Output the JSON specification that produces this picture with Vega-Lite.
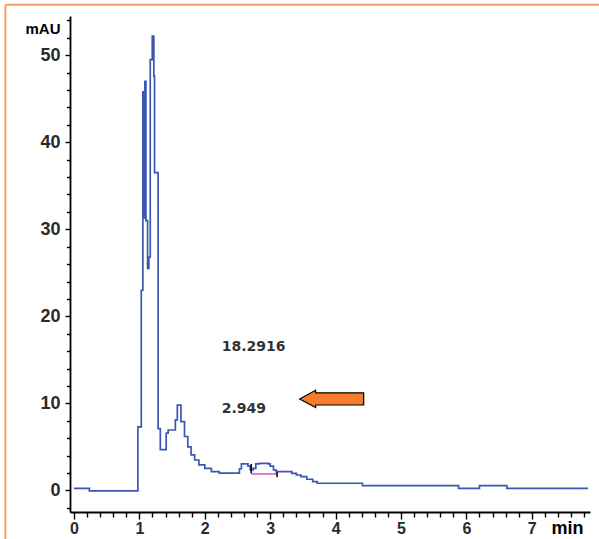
{
  "$schema": "https://vega.github.io/schema/vega-lite/v6.json",
  "autosize": {"type": "none"},
  "width": 520,
  "height": 496,
  "padding": {"left": 70, "top": 16, "right": 9, "bottom": 27},
  "background": "white",
  "config": {"view": {"stroke": null}},
  "datasets": {
    "trace": [
      {"t": 0, "v": 0.25}, {"t": 0.235, "v": -0.05}, {"t": 0.977, "v": 7.3}, {"t": 1.029, "v": 23.0},
      {"t": 1.053, "v": 45.8}, {"t": 1.072, "v": 31.3}, {"t": 1.084, "v": 47.0}, {"t": 1.1, "v": 31.0},
      {"t": 1.125, "v": 25.5}, {"t": 1.145, "v": 26.8}, {"t": 1.166, "v": 49.5}, {"t": 1.197, "v": 52.2},
      {"t": 1.221, "v": 47.6}, {"t": 1.232, "v": 36.5}, {"t": 1.286, "v": 7.1}, {"t": 1.32, "v": 4.7},
      {"t": 1.41, "v": 6.6}, {"t": 1.44, "v": 6.95}, {"t": 1.55, "v": 8.1}, {"t": 1.58, "v": 9.8},
      {"t": 1.635, "v": 7.9}, {"t": 1.69, "v": 6.2}, {"t": 1.74, "v": 5.0}, {"t": 1.79, "v": 4.1},
      {"t": 1.845, "v": 3.5}, {"t": 1.91, "v": 2.95}, {"t": 2.0, "v": 2.55}, {"t": 2.1, "v": 2.16},
      {"t": 2.22, "v": 2.0}, {"t": 2.53, "v": 2.5}, {"t": 2.56, "v": 3.05}, {"t": 2.66, "v": 2.8},
      {"t": 2.695, "v": 2.36}, {"t": 2.74, "v": 2.55}, {"t": 2.78, "v": 3.05}, {"t": 2.83, "v": 3.12},
      {"t": 2.97, "v": 3.05}, {"t": 3.0, "v": 2.8}, {"t": 3.05, "v": 2.36}, {"t": 3.09, "v": 2.16},
      {"t": 3.33, "v": 1.97}, {"t": 3.4, "v": 1.78}, {"t": 3.47, "v": 1.59}, {"t": 3.56, "v": 1.29},
      {"t": 3.65, "v": 1.01}, {"t": 3.72, "v": 0.83}, {"t": 4.41, "v": 0.55}, {"t": 5.88, "v": 0.25},
      {"t": 6.2, "v": 0.55}, {"t": 6.62, "v": 0.25}, {"t": 7.86, "v": 0.25}
    ],
    "baseline": [{"t": 2.71, "t2": 3.105, "v": 1.9}],
    "markers": [{"t": 2.71, "v": 1.97, "v2": 3.05}, {"t": 3.105, "v": 1.52, "v2": 2.16}],
    "labels": [{"t": 2.26, "v": 16.5, "label": "18.2916"}, {"t": 2.26, "v": 9.37, "label": "2.949"}],
    "arrow": [{"t": 3.94, "v": 10.52}],
    "frame": [{"t": -1.049, "t2": 8.1, "v": 55.8, "v2": -6}]
  },
  "layer": [
    {
      "data": {"name": "trace"},
      "mark": {"type": "line", "interpolate": "step-after", "color": "#3b56b5", "strokeWidth": 1.7},
      "encoding": {
        "x": {
          "field": "t", "type": "quantitative",
          "scale": {"domain": [-0.061, 7.89], "nice": false, "zero": false},
          "axis": {
            "values": [0,0.2,0.4,0.6,0.8,1,1.2,1.4,1.6,1.8,2,2.2,2.4,2.6,2.8,3,3.2,3.4,3.6,3.8,4,4.2,4.4,4.6,4.8,5,5.2,5.4,5.6,5.8,6,6.2,6.4,6.6,6.8,7,7.2,7.4,7.6,7.8],
            "tickCount": 500,
            "labelExpr": "abs(datum.value - round(datum.value)) < 0.01 ? format(datum.value, 'd') : ''",
            "tickSize": {"condition": {"test": "abs(datum.value - round(datum.value)) < 0.01", "value": 7}, "value": 5},
            "labelOverlap": false, "labelFlush": false, "grid": false,
            "domainColor": "black", "domainWidth": 1.8, "tickColor": "black", "tickWidth": 1.4,
            "labelFont": "Liberation Sans", "labelFontSize": 16, "labelFontWeight": "bold", "labelColor": "#2a2a2a", "labelPadding": 1,
            "title": "min", "titleX": 481, "titleY": 16, "titleAlign": "left", "titleBaseline": "middle",
            "titleFont": "Liberation Sans", "titleFontSize": 18, "titleFontWeight": "bold", "titleColor": "black"
          }
        },
        "y": {
          "field": "v", "type": "quantitative",
          "scale": {"domain": [-2.47, 54.5], "nice": false, "zero": false},
          "axis": {
            "values": [-2,0,2,4,6,8,10,12,14,16,18,20,22,24,26,28,30,32,34,36,38,40,42,44,46,48,50,52,54],
            "tickCount": 500,
            "labelExpr": "datum.value % 10 === 0 ? format(datum.value, 'd') : ''",
            "tickSize": {"condition": {"test": "datum.value % 10 === 0", "value": 5}, "value": 3.5},
            "labelOverlap": false, "labelFlush": false, "grid": false,
            "domainColor": "black", "domainWidth": 1.8, "tickColor": "black", "tickWidth": 1.4,
            "labelFont": "Liberation Sans", "labelFontSize": 18, "labelFontWeight": "bold", "labelColor": "#2a2a2a", "labelPadding": 5,
            "title": "mAU", "titleAngle": 0, "titleX": -10, "titleY": 12, "titleAlign": "right", "titleBaseline": "middle",
            "titleFont": "Liberation Sans", "titleFontSize": 15, "titleFontWeight": "bold", "titleColor": "black"
          }
        }
      }
    },
    {
      "data": {"name": "baseline"},
      "mark": {"type": "rule", "color": "#dd4fa6", "strokeWidth": 1.5},
      "encoding": {
        "x": {"field": "t", "type": "quantitative"},
        "x2": {"field": "t2"},
        "y": {"field": "v", "type": "quantitative"}
      }
    },
    {
      "data": {"name": "markers"},
      "mark": {"type": "rule", "color": "black", "strokeWidth": 1.5},
      "encoding": {
        "x": {"field": "t", "type": "quantitative"},
        "y": {"field": "v", "type": "quantitative"},
        "y2": {"field": "v2"}
      }
    },
    {
      "data": {"name": "labels"},
      "mark": {"type": "text", "align": "left", "baseline": "middle", "font": "DejaVu Sans", "fontSize": 14, "fontWeight": "bold", "color": "#333"},
      "encoding": {
        "x": {"field": "t", "type": "quantitative"},
        "y": {"field": "v", "type": "quantitative"},
        "text": {"field": "label"}
      }
    },
    {
      "data": {"name": "arrow"},
      "mark": {"type": "point", "filled": true, "shape": "M -1 0 L -0.5 -0.27 L -0.5 -0.19 L 1 -0.19 L 1 0.19 L -0.5 0.19 L -0.5 0.27 Z", "size": 4096, "fill": "#f47c2c", "stroke": "black", "strokeWidth": 1.2, "opacity": 1},
      "encoding": {
        "x": {"field": "t", "type": "quantitative"},
        "y": {"field": "v", "type": "quantitative"}
      }
    },
    {
      "data": {"name": "frame"},
      "mark": {"type": "rule", "color": "#f9a06a", "strokeWidth": 2},
      "encoding": {
        "x": {"field": "t", "type": "quantitative"},
        "y": {"field": "v", "type": "quantitative"},
        "y2": {"field": "v2"}
      }
    },
    {
      "data": {"name": "frame"},
      "mark": {"type": "rule", "color": "#f9a06a", "strokeWidth": 2},
      "encoding": {
        "x": {"field": "t", "type": "quantitative"},
        "x2": {"field": "t2"},
        "y": {"field": "v", "type": "quantitative"}
      }
    }
  ]
}
